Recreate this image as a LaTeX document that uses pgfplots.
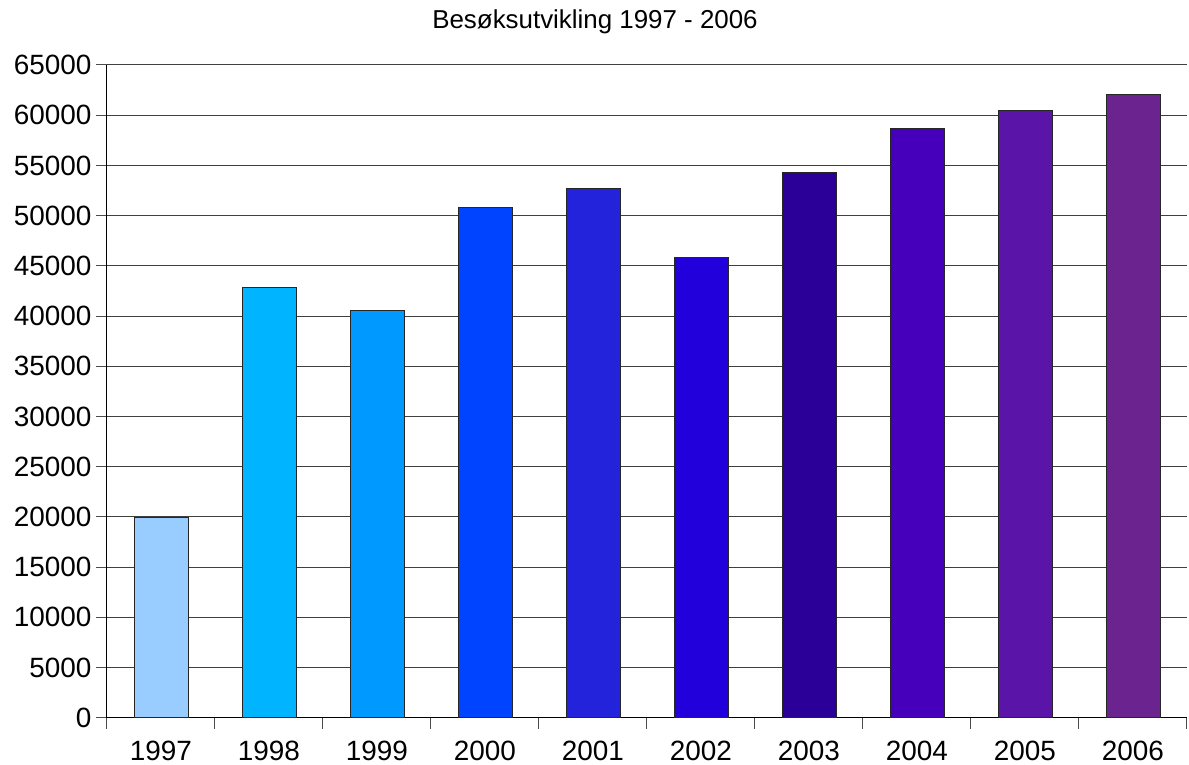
\documentclass[border=0pt]{standalone}
\usepackage{pgfplots}
\pgfplotsset{compat=1.18}
\usepackage{fontspec}
\setmainfont{Liberation Sans}

\definecolor{c97}{HTML}{99CCFF}
\definecolor{c98}{HTML}{00B4FF}
\definecolor{c99}{HTML}{0099FF}
\definecolor{c00}{HTML}{0044FF}
\definecolor{c01}{HTML}{2323DC}
\definecolor{c02}{HTML}{2200DC}
\definecolor{c03}{HTML}{2A0099}
\definecolor{c04}{HTML}{4600BB}
\definecolor{c05}{HTML}{5B14A8}
\definecolor{c06}{HTML}{6A238F}

\begin{document}
\begin{tikzpicture}
\useasboundingbox (-107bp,-47.3bp) rectangle (1082bp,717.7bp);
\begin{axis}[
    at={(0,0)}, anchor=south west,
    scale only axis,
    width=1080bp, height=652.7bp,
    xmin=-0.5, xmax=9.5,
    ymin=0, ymax=65000,
    ytick={0,5000,...,65000},
    xtick={0,...,9},
    xticklabels={1997,1998,1999,2000,2001,2002,2003,2004,2005,2006},
    minor xtick={-0.5,0.5,...,9.5},
    axis x line*=bottom,
    axis y line*=left,
    axis line style={black, line width=1bp, -},
    tick align=outside,
    major tick length=11bp,
    minor tick length=11bp,
    major x tick style={draw=none},
    minor x tick style={black!70, line width=1bp},
    y tick style={black!70, line width=1bp},
    ymajorgrids,
    grid style={black!75, line width=1bp},
    scaled y ticks=false,
    /pgf/number format/assume math mode=true,
    yticklabel={\pgfmathprintnumber[fixed,1000 sep={}]{\tick}},
    ticklabel style={font=\fontsize{28}{32}\selectfont},
    yticklabel style={xshift=-1bp},
    xticklabel style={anchor=base, yshift=-32bp},
    ybar, bar width=0.5, bar shift=0pt,
    every axis plot/.append style={draw=black!85, line width=0.8bp},
    clip=false,
]
\addplot[fill=c97] coordinates {(0,19950)};
\addplot[fill=c98] coordinates {(1,42900)};
\addplot[fill=c99] coordinates {(2,40550)};
\addplot[fill=c00] coordinates {(3,50800)};
\addplot[fill=c01] coordinates {(4,52750)};
\addplot[fill=c02] coordinates {(5,45850)};
\addplot[fill=c03] coordinates {(6,54350)};
\addplot[fill=c04] coordinates {(7,58700)};
\addplot[fill=c05] coordinates {(8,60500)};
\addplot[fill=c06] coordinates {(9,62100)};
\end{axis}
\node[anchor=base, font=\fontsize{26}{30}\selectfont] at (488bp,689.4bp) {Besøksutvikling 1997 - 2006};
\end{tikzpicture}
\end{document}
